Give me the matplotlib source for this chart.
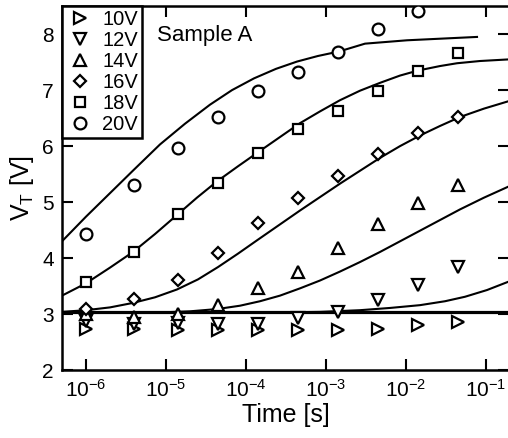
import numpy as np
import matplotlib
matplotlib.use("Agg")
import matplotlib.pyplot as plt

plt.rcParams['font.family'] = ['Liberation Sans', 'DejaVu Sans']
plt.rcParams['mathtext.fontset'] = 'custom'
plt.rcParams['mathtext.rm'] = 'Liberation Sans'
plt.rcParams['mathtext.it'] = 'Liberation Sans:italic'

# measured threshold voltage vs stress time
t = [1e-6, 4e-6, 1.4e-5, 4.5e-5, 1.4e-4, 4.5e-4, 1.4e-3, 4.5e-3, 1.4e-2, 4.5e-2]
v10 = [2.74, 2.73, 2.72, 2.72, 2.72, 2.72, 2.72, 2.73, 2.80, 2.86]
v12 = [2.87, 2.82, 2.84, 2.82, 2.82, 2.93, 3.04, 3.25, 3.52, 3.84]
v14 = [3.00, 2.95, 3.00, 3.16, 3.46, 3.75, 4.18, 4.61, 4.98, 5.30]
v16 = [3.09, 3.27, 3.61, 4.09, 4.63, 5.07, 5.46, 5.86, 6.23, 6.52]
v18 = [3.57, 4.11, 4.79, 5.34, 5.87, 6.30, 6.63, 6.99, 7.35, 7.67]
v20 = [4.43, 5.30, 5.96, 6.52, 6.98, 7.32, 7.68, 8.09, 8.41]

labels = ['10V', '12V', '14V', '16V', '18V', '20V']
markers = ['>', 'v', '^', 'D', 's', 'o']
msizes = [8, 8, 8, 6, 7, 8.5]

# fitted curves (log10 time, V)
fit20_lt = [-6.3, -6.0, -5.7, -5.4, -5.075, -4.7625, -4.45, -4.175, -3.9, -3.625,
            -3.3625, -3.1, -2.8375, -2.675, -2.5125, -1.9875, -1.1125]
fit20_v = [4.30, 4.74, 5.16, 5.58, 6.03, 6.40, 6.74, 7.00, 7.21, 7.38,
           7.51, 7.61, 7.69, 7.76, 7.83, 7.89, 7.95]
fit18_lt = [-6.3, -6.0, -5.7, -5.4125, -5.1375, -4.8625, -4.6125, -4.3625, -4.1, -3.85,
            -3.5875, -3.325, -3.075, -2.825, -2.575, -2.325, -2.075, -1.85, -1.575,
            -1.3625, -1.075, -0.7]
fit18_v = [3.33, 3.55, 3.83, 4.11, 4.43, 4.77, 5.08, 5.37, 5.64, 5.89,
           6.15, 6.41, 6.62, 6.82, 6.99, 7.13, 7.26, 7.35, 7.43,
           7.48, 7.52, 7.55]
fit16_lt = [-6.3, -6.0, -5.7, -5.4125, -5.1375, -4.8625, -4.6, -4.35, -4.1, -3.85,
            -3.5875, -3.325, -3.075, -2.825, -2.575, -2.325, -2.075, -1.825, -1.575,
            -1.325, -1.025, -0.7]
fit16_v = [3.04, 3.07, 3.12, 3.20, 3.30, 3.44, 3.62, 3.84, 4.08, 4.33,
           4.59, 4.85, 5.09, 5.33, 5.56, 5.79, 6.00, 6.19, 6.36,
           6.52, 6.67, 6.81]
fit14_lt = [-5.075, -4.7, -4.3625, -4.075, -3.825, -3.575, -3.325, -3.075, -2.825, -2.575,
            -2.325, -2.075, -1.825, -1.575, -1.325, -1.025, -0.7]
fit14_v = [3.03, 3.05, 3.09, 3.15, 3.23, 3.33, 3.46, 3.60, 3.76, 3.93,
           4.11, 4.30, 4.49, 4.68, 4.87, 5.08, 5.29]
fit12_lt = [-3.575, -3.075, -2.575, -2.2, -1.825, -1.5125, -1.2625, -0.9875, -0.7]
fit12_v = [3.03, 3.04, 3.07, 3.11, 3.16, 3.23, 3.31, 3.43, 3.59]
v_base = 3.03

fig = plt.figure(figsize=(5.08, 4.38), dpi=100)
# right spine sits just past the picture edge, as in the original
ax = fig.add_axes([0.122, 0.155, 0.880, 0.831])

for lt, v in [(fit20_lt, fit20_v), (fit18_lt, fit18_v), (fit16_lt, fit16_v),
              (fit14_lt, fit14_v), (fit12_lt, fit12_v)]:
    ax.plot(10 ** np.array(lt), v, color='black', lw=1.5, zorder=2,
            solid_joinstyle='round')
ax.axhline(v_base, color='black', lw=2.3, zorder=2)

series = [v10, v12, v14, v16, v18, v20]
for v, lab, m, ms in zip(series, labels, markers, msizes):
    ax.plot(t[:len(v)], v, ls='none', marker=m, ms=ms, mfc='white', mec='black',
            mew=1.6, label=lab, zorder=3)

ax.set_xscale('log')
ax.set_xlim(10 ** -6.3, 10 ** -0.7125)
ax.set_ylim(2, 8.5)
ax.set_xticks([1e-6, 1e-5, 1e-4, 1e-3, 1e-2, 1e-1])
ax.set_yticks([2, 3, 4, 5, 6, 7, 8])
ax.minorticks_off()
ax.tick_params(direction='in', length=8, width=1.5, top=True, right=True,
               labelsize=15, pad=6)
for s in ax.spines.values():
    s.set_linewidth(1.8)

ax.set_xlabel('Time [s]', fontsize=18, labelpad=2)
ax.set_ylabel(r'V$_\mathrm{T}$ [V]', fontsize=18, labelpad=4)

ax.text(0.213, 0.918, 'Sample A', transform=ax.transAxes, fontsize=16,
        va='center', ha='left')

leg = ax.legend(loc='upper left', borderaxespad=0, fontsize=14.5, frameon=True,
                fancybox=False, numpoints=1, handlelength=1.4,
                handletextpad=0.4, labelspacing=0.1, borderpad=0.2)
leg.get_frame().set_edgecolor('black')
leg.get_frame().set_linewidth(1.8)
leg.get_frame().set_alpha(1)

fig.savefig('out.png', dpi=100)
